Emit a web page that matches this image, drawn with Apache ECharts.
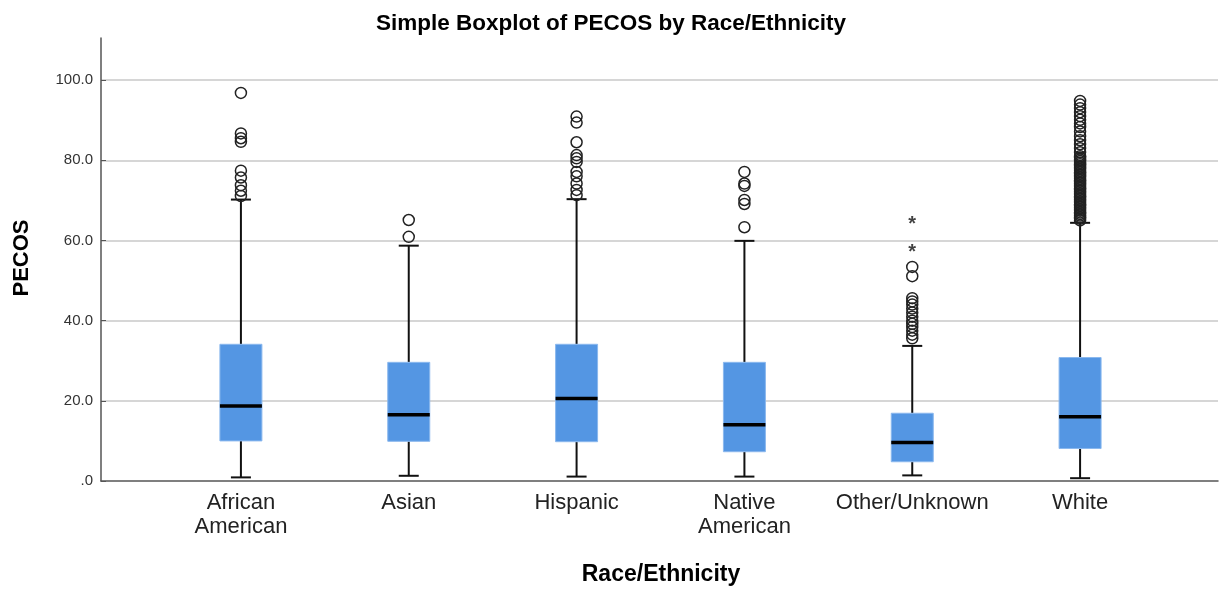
<!DOCTYPE html>
<html>
<head>
<meta charset="utf-8">
<script src="https://cdn.jsdelivr.net/npm/echarts@6/dist/echarts.min.js"></script>
<style>
  html, body { margin: 0; padding: 0; background: #fff; }
  #chart { width: 1222px; height: 590px; }
</style>
</head>
<body>
<div id="chart"></div>
<script>
// 类别与箱线数据 (读自图片)
var categories = ['African\nAmerican', 'Asian', 'Hispanic', 'Native\nAmerican', 'Other/Unknown', 'White'];
var whiskerLow = [0.9, 1.3, 1.1, 1.1, 1.4, 0.7];
var q1 = [10.0, 9.9, 9.8, 7.3, 4.8, 8.1];
var medians = [18.7, 16.5, 20.6, 14.0, 9.6, 16.0];
var q3 = [34.1, 29.6, 34.1, 29.6, 16.9, 30.8];
var whiskerHigh = [70.2, 58.7, 70.3, 59.9, 33.7, 64.4];

// 离群值
var outAfrican = [96.8, 86.7, 85.5, 84.6, 77.4, 75.7, 73.8, 72.4, 71.1];
var outAsian = [65.1, 60.9];
var outHispanic = [90.9, 89.4, 84.5, 81.3, 80.5, 79.6, 77.1, 76.0, 74.2, 72.6, 71.3];
var outNative = [77.1, 74.2, 73.6, 70.1, 69.1, 63.3];
var outOther = [53.4, 51.1, 45.6, 44.8, 44.0, 43.0, 42.0, 41.0, 40.0, 39.2, 38.4, 37.5, 36.5, 35.6];
var outWhite = [94.8, 93.9, 93.0, 92.0, 91.0, 90.1, 89.2, 88.3, 87.2, 86.0, 85.0, 84.0, 83.0, 82.0, 81.0,
  80.6, 80.2, 79.8, 79.4, 79.0, 78.6, 78.2, 77.8, 77.4, 77.0, 76.6, 76.2, 75.8, 75.4, 75.0, 74.6,
  74.2, 73.8, 73.4, 73.0, 72.6, 72.2, 71.8, 71.4, 71.0, 70.6, 70.2, 69.8, 69.4, 69.0, 68.6, 68.2,
  67.8, 67.4, 67.0, 66.6, 66.2, 65.8, 65.4, 65.0];
// 极端值 (星号)
var extremeOther = [64.4, 57.6];

var yTicks = [0, 20, 40, 60, 80, 100];
var yMax = 110.5;

var FONT = 'Liberation Sans, Arial, sans-serif';
var BOX_W = 42;
var CAP_W = 20;

var boxData = categories.map(function (c, i) {
  return [i, whiskerLow[i], q1[i], medians[i], q3[i], whiskerHigh[i]];
});

var outliers = [];
[outAfrican, outAsian, outHispanic, outNative, outOther, outWhite].forEach(function (arr, i) {
  arr.forEach(function (v) { outliers.push([i, v]); });
});
var extremes = extremeOther.map(function (v) { return [4, v]; });

function renderBox(params, api) {
  var i = api.value(0);
  var x = api.coord([i, 0])[0];
  var yLo = api.coord([i, api.value(1)])[1];
  var yQ1 = api.coord([i, api.value(2)])[1];
  var yMed = api.coord([i, api.value(3)])[1];
  var yQ3 = api.coord([i, api.value(4)])[1];
  var yHi = api.coord([i, api.value(5)])[1];
  var lineStyle = { stroke: '#111', lineWidth: 2 };
  return {
    type: 'group',
    children: [
      { type: 'line', shape: { x1: x, y1: yHi, x2: x, y2: yQ3 }, style: lineStyle },
      { type: 'line', shape: { x1: x, y1: yQ1, x2: x, y2: yLo }, style: lineStyle },
      { type: 'line', shape: { x1: x - CAP_W / 2, y1: yHi, x2: x + CAP_W / 2, y2: yHi }, style: lineStyle },
      { type: 'line', shape: { x1: x - CAP_W / 2, y1: yLo, x2: x + CAP_W / 2, y2: yLo }, style: lineStyle },
      {
        type: 'rect',
        shape: { x: x - BOX_W / 2, y: yQ3, width: BOX_W, height: yQ1 - yQ3 },
        style: { fill: '#5496e3', stroke: '#8bb8ee', lineWidth: 1 }
      },
      { type: 'line', shape: { x1: x - BOX_W / 2, y1: yMed, x2: x + BOX_W / 2, y2: yMed }, style: { stroke: '#000', lineWidth: 3.5 } }
    ]
  };
}

var chart = echarts.init(document.getElementById('chart'));

var option = {
  animation: false,
  title: {
    text: 'Simple Boxplot of PECOS by Race/Ethnicity',
    left: 'center',
    top: 7,
    textStyle: { fontFamily: FONT, fontSize: 22.5, fontWeight: 'bold', color: '#000' }
  },
  grid: [
    { left: 101, right: 4, top: 38, bottom: 109 },
    { left: 157, right: 58, top: 38, bottom: 109 }
  ],
  xAxis: [{
    gridIndex: 0,
    type: 'value',
    min: 0,
    max: 1,
    axisLine: { show: true, lineStyle: { color: '#555', width: 1.5 } },
    axisTick: { show: false },
    axisLabel: { show: false },
    splitLine: { show: false }
  }, {
    gridIndex: 1,
    type: 'category',
    data: categories,
    axisLine: { show: false },
    axisTick: { show: false },
    axisLabel: {
      interval: 0,
      margin: 10,
      fontFamily: FONT,
      fontSize: 22,
      lineHeight: 24,
      color: '#222'
    }
  }],
  yAxis: [{
    gridIndex: 0,
    type: 'value',
    min: 0,
    max: yMax,
    interval: 20,
    axisLine: { show: true, lineStyle: { color: '#555', width: 1.5 } },
    axisTick: { show: true, inside: true, length: 5, lineStyle: { color: '#555' } },
    axisLabel: {
      showMaxLabel: false,
      margin: 8,
      fontFamily: FONT,
      fontSize: 15,
      color: '#333',
      formatter: function (v) {
        if (yTicks.indexOf(v) < 0) return '';
        return v === 0 ? '.0' : v.toFixed(1);
      }
    },
    splitLine: { show: true, showMaxLine: false, showMinLine: false, lineStyle: { color: '#c9c9c9', width: 1.5 } }
  }, {
    gridIndex: 1,
    type: 'value',
    min: 0,
    max: yMax,
    interval: 20,
    show: false
  }],
  series: [{
    type: 'custom',
    xAxisIndex: 1,
    yAxisIndex: 1,
    renderItem: renderBox,
    encode: { x: 0, y: [1, 2, 3, 4, 5] },
    data: boxData,
    z: 2
  }, {
    type: 'scatter',
    xAxisIndex: 1,
    yAxisIndex: 1,
    symbol: 'circle',
    symbolSize: 11,
    itemStyle: { color: 'rgba(255,255,255,0)', borderColor: '#222', borderWidth: 1.5, opacity: 1 },
    data: outliers,
    z: 3
  }, {
    type: 'scatter',
    xAxisIndex: 1,
    yAxisIndex: 1,
    symbolSize: 1,
    itemStyle: { color: 'rgba(0,0,0,0)' },
    label: {
      show: true,
      position: 'inside',
      formatter: '*',
      fontFamily: FONT,
      fontSize: 20,
      fontWeight: 'bold',
      color: '#111',
      offset: [0, 2]
    },
    data: extremes,
    z: 3
  }],
  graphic: [{
    type: 'text',
    x: 22,
    y: 258,
    rotation: Math.PI / 2,
    style: {
      text: 'PECOS',
      font: 'bold 22px ' + FONT,
      fill: '#000',
      textAlign: 'center',
      textVerticalAlign: 'middle'
    }
  }, {
    type: 'text',
    x: 661,
    y: 575,
    style: {
      text: 'Race/Ethnicity',
      font: 'bold 23px ' + FONT,
      fill: '#000',
      textAlign: 'center',
      textVerticalAlign: 'middle'
    }
  }]
};

chart.setOption(option);
</script>
</body>
</html>
